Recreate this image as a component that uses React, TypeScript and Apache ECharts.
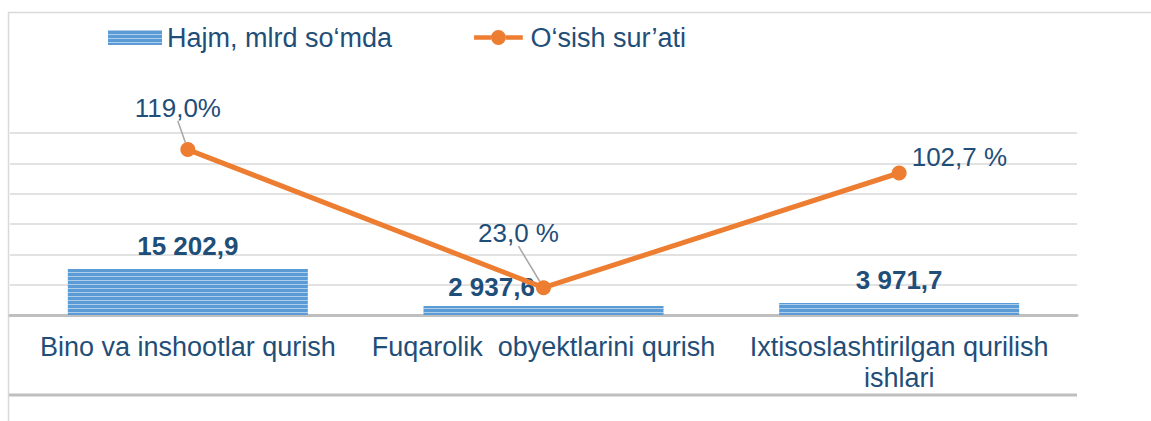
import React, { useEffect, useRef } from "react";
import * as echarts from "echarts";

const categories = [
  "Bino va inshootlar qurish",
  "Fuqarolik  obyektlarini qurish",
  "Ixtisoslashtirilgan qurilish\nishlari",
];
const volume = [15202.9, 2937.6, 3971.7];
const growth = [119.0, 23.0, 102.7];
const volumeLabels = ["15 202,9", "2 937,6", "3 971,7"];
const growthLabels = ["119,0%", "23,0 %", "102,7 %"];
const seriesNames = ["Hajm, mlrd so‘mda", "O‘sish sur’ati"];

const TEXT = "#1F4E79";
const BLUE = "#5B9BD5";
const ORANGE = "#ED7D31";
const FONT = "'Liberation Sans', Arial, sans-serif";

const LINE_ICON =
  "path://M0,5.5 H18 V10.5 H0 Z M34,5.5 H52 V10.5 H34 Z M26,0 A8,8 0 1,1 26,16 A8,8 0 1,1 26,0 Z";

export default function App() {
  const ref = useRef<HTMLDivElement>(null);
  useEffect(() => {
    if (!ref.current) return;
    const chart = echarts.init(ref.current, null, { renderer: "svg" });
    const decal = {
      symbol: "rect",
      symbolSize: 1,
      dashArrayX: [1, 0],
      dashArrayY: [1, 2.3],
      rotation: 0,
      color: "rgba(255,255,255,0.5)",
    };
    chart.setOption({
      animation: false,
      textStyle: { fontFamily: FONT },
      legend: {
        left: 108,
        top: 24,
        padding: 0,
        itemGap: 82,
        itemWidth: 54,
        itemHeight: 15,
        textStyle: { fontSize: 27, color: TEXT, fontFamily: FONT },
        data: [
          { name: seriesNames[0], icon: "rect" },
          { name: seriesNames[1], icon: LINE_ICON, itemStyle: { color: ORANGE } },
        ],
      },
      grid: { left: 10, right: 74, top: 133, bottom: 106 },
      xAxis: {
        type: "category",
        data: categories,
        axisLine: { lineStyle: { color: "#BFBFBF", width: 3 } },
        axisTick: { show: false },
        axisLabel: {
          fontSize: 27,
          color: TEXT,
          margin: 16,
          lineHeight: 31,
          fontFamily: FONT,
          interval: 0,
        },
      },
      yAxis: [
        {
          type: "value",
          min: 0,
          max: 60000,
          interval: 10000,
          axisLabel: { show: false },
          axisLine: { show: false },
          axisTick: { show: false },
          splitLine: { lineStyle: { color: "#D9D9D9", width: 1.5 } },
        },
        {
          type: "value",
          min: 4,
          max: 130.5,
          show: false,
          splitLine: { show: false },
        },
      ],
      series: [
        {
          name: seriesNames[0],
          type: "bar",
          barWidth: 240,
          itemStyle: { color: BLUE, decal },
          label: {
            show: true,
            position: "top",
            distance: 10,
            fontSize: 26,
            fontWeight: "bold",
            color: TEXT,
            fontFamily: FONT,
            formatter: (p: any) => volumeLabels[p.dataIndex],
          },
          data: volume.map((v, i) =>
            i === 1
              ? { value: v, label: { distance: 6, offset: [-52, 0] } }
              : { value: v }
          ),
          z: 2,
        },
        {
          name: seriesNames[1],
          type: "line",
          yAxisIndex: 1,
          symbol: "circle",
          symbolSize: 15,
          lineStyle: { color: ORANGE, width: 5 },
          itemStyle: { color: ORANGE },
          label: {
            show: true,
            position: "top",
            fontSize: 26,
            color: TEXT,
            fontFamily: FONT,
            formatter: (p: any) => growthLabels[p.dataIndex],
          },
          labelLine: {
            show: true,
            lineStyle: { color: "#A6A6A6", width: 1.5 },
          },
          labelLayout: (p: any) => {
            if (p.dataIndex === 0) return { dx: -10, dy: -16 };
            if (p.dataIndex === 1) return { dx: -25, dy: -29 };
            return { dy: -16 };
          },
          data: growth.map((v, i) =>
            i === 2
              ? { value: v, label: { position: "right" }, labelLine: { show: false } }
              : { value: v }
          ),
          z: 5,
        },
      ],
      graphic: [
        {
          type: "line",
          shape: { x1: 8.5, y1: 12, x2: 8.5, y2: 421 },
          style: { stroke: "#D9D9D9", lineWidth: 1.5 },
          silent: true,
        },
        {
          type: "line",
          shape: { x1: 8, y1: 12.5, x2: 1151, y2: 12.5 },
          style: { stroke: "#D9D9D9", lineWidth: 1.5 },
          silent: true,
        },
        {
          type: "line",
          shape: { x1: 9, y1: 395, x2: 1077, y2: 395 },
          style: { stroke: "#BFBFBF", lineWidth: 3 },
          silent: true,
        },
      ],
    });
    return () => chart.dispose();
  }, []);
  return (
    <div
      ref={ref}
      style={{ position: "absolute", left: 0, top: 0, width: 1151, height: 421, background: "#fff" }}
    />
  );
}
